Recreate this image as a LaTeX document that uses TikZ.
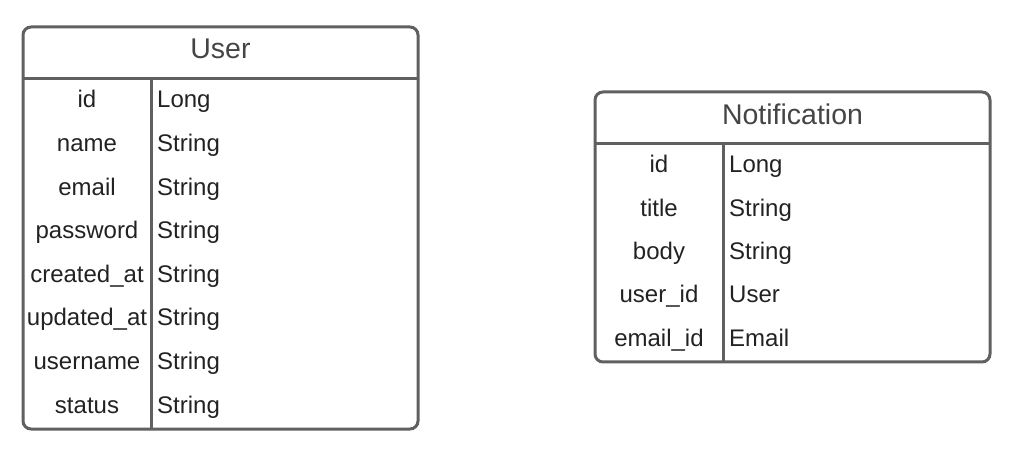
\documentclass[tikz,border=0pt]{standalone}
\usepackage{fontspec}
\setmainfont{Liberation Sans}
\usetikzlibrary{calc}
\definecolor{framegray}{HTML}{606060}
\definecolor{headgray}{HTML}{454545}
\definecolor{fieldgray}{HTML}{222222}

\begin{document}
\begin{tikzpicture}[x=1pt,y=-1pt,
    frame/.style={draw=framegray,line width=3pt,rounded corners=8pt},
    rule/.style={draw=framegray,line width=3pt},
    title/.style={font=\fontsize{28.5}{28.5}\selectfont,text=headgray,inner sep=0pt,anchor=base},
    field/.style={font=\fontsize{24}{24}\selectfont,text=fieldgray,inner sep=0pt,anchor=base},
    ftype/.style={field,anchor=base west}]
    \useasboundingbox (0,0) rectangle (1023,454);

    % User table
    \draw[frame] (23,27) rectangle (418,429);
    \draw[rule] (23,79) -- (418,79);
    \draw[rule] (151,79) -- (151,429);
    \node[title] (user) at (220.5,59) {User};
    \foreach \fname/\ftype [count=\i from 0] in {id/Long,name/String,email/String,
        password/String,created\_at/String,updated\_at/String,username/String,status/String}{
      \node[field] (user-f\i) at (87,{108+43.6*\i}) {\fname};
      \node[ftype] (user-t\i) at (157,{108+43.6*\i}) {\ftype};
    }

    % Notification table
    \draw[frame] (595,92) rectangle (990,362);
    \draw[rule] (595,144) -- (990,144);
    \draw[rule] (723,144) -- (723,362);
    \node[title] (notification) at (792.5,125) {Notification};
    \foreach \fname/\ftype [count=\i from 0] in {id/Long,title/String,body/String,
        user\_id/User,email\_id/Email}{
      \node[field] (notification-f\i) at (659,{173+43.3*\i}) {\fname};
      \node[ftype] (notification-t\i) at (729,{173+43.3*\i}) {\ftype};
    }
\end{tikzpicture}
\end{document}
